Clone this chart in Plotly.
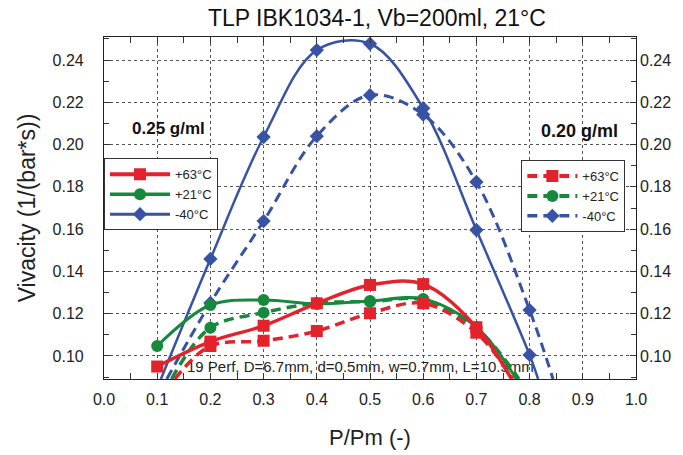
import plotly.graph_objects as go

# ---------------- data ----------------
title_text = "TLP IBK1034-1, Vb=200ml, 21°C"
x_title = "P/Pm (-)"
y_title = "Vivacity (1/(bar*s))"
note_text = "19 Perf, D=6.7mm, d=0.5mm, w=0.7mm, L=10.5mm"
legend_labels = ["+63°C", "+21°C", "-40°C"]

# 0.25 g/ml (solid)
x_red_a = [0.1, 0.2, 0.3, 0.4, 0.5, 0.6, 0.7]
y_red_a = [0.095, 0.1068, 0.1143, 0.1249, 0.1336, 0.134, 0.1136]
x_green_a = [0.1, 0.2, 0.3, 0.4, 0.5, 0.6, 0.7]
y_green_a = [0.1047, 0.1241, 0.1265, 0.1246, 0.126, 0.127, 0.1136]
x_blue_a = [0.2, 0.3, 0.4, 0.5, 0.6, 0.7, 0.8]
y_blue_a = [0.1459, 0.2036, 0.2447, 0.2477, 0.2172, 0.1596, 0.1005]

# 0.20 g/ml (dashed)
x_red_b = [0.2, 0.3, 0.4, 0.5, 0.6, 0.7]
y_red_b = [0.1047, 0.1072, 0.1118, 0.1202, 0.1249, 0.111]
x_green_b = [0.2, 0.3, 0.4, 0.5, 0.6, 0.7]
y_green_b = [0.1134, 0.1205, 0.125, 0.1257, 0.1266, 0.1132]
x_blue_b = [0.2, 0.3, 0.4, 0.5, 0.6, 0.7, 0.8]
y_blue_b = [0.1251, 0.1638, 0.204, 0.2234, 0.2142, 0.1823, 0.1217]

# where each fitted curve leaves the plot at the bottom
y_floor = 0.0891
red_a_ends = (None, 0.766)
green_a_ends = (None, 0.775)
blue_a_ends = (0.107, 0.816)
red_b_ends = (0.133, 0.768)
green_b_ends = (0.127, 0.78)
blue_b_ends = (0.118, 0.844)

RED = "#E4222B"
GREEN = "#16893C"
BLUE = "#3852A4"
FONT = "Arial, Liberation Sans, sans-serif"

fig = go.Figure()

# note text first, so the curves are drawn over it
fig.add_trace(go.Scatter(
    x=[0.156], y=[0.0943], mode="text", text=[note_text],
    textposition="middle right", textfont=dict(size=15, color="#222", family=FONT),
    showlegend=False, hoverinfo="skip"))


def curve(xs, ys, ends):
    lx, rx = ends
    cx = list(xs)
    cy = list(ys)
    if lx is not None:
        cx = [lx] + cx
        cy = [y_floor] + cy
    if rx is not None:
        cx = cx + [rx]
        cy = cy + [y_floor]
    return cx, cy


series = [
    # (x, y, ends, color, symbol, size, width, dash, label, legend)
    (x_blue_b, y_blue_b, blue_b_ends, BLUE, "diamond", 11, 3, "10px,6px", legend_labels[2], "legend2"),
    (x_blue_a, y_blue_a, blue_a_ends, BLUE, "diamond", 11, 2.5, "solid", legend_labels[2], "legend"),
    (x_green_b, y_green_b, green_b_ends, GREEN, "circle", 12, 3.5, "10px,6px", legend_labels[1], "legend2"),
    (x_green_a, y_green_a, green_a_ends, GREEN, "circle", 12, 3, "solid", legend_labels[1], "legend"),
    (x_red_b, y_red_b, red_b_ends, RED, "square", 12, 3.5, "10px,6px", legend_labels[0], "legend2"),
    (x_red_a, y_red_a, red_a_ends, RED, "square", 12, 3.5, "solid", legend_labels[0], "legend"),
]

rank = {legend_labels[0]: 1, legend_labels[1]: 2, legend_labels[2]: 3}

for xs, ys, ends, col, sym, size, wd, dash, label, leg in series:
    cx, cy = curve(xs, ys, ends)
    fig.add_trace(go.Scatter(
        x=cx, y=cy, mode="lines", line=dict(color=col, width=wd, dash=dash,
                                            shape="spline", smoothing=1.0),
        showlegend=False, hoverinfo="skip"))
    fig.add_trace(go.Scatter(
        x=xs, y=ys, mode="markers", marker=dict(color=col, symbol=sym, size=size),
        showlegend=False))
    # legend entry
    fig.add_trace(go.Scatter(
        x=[None], y=[None], mode="lines+markers", name=label, legend=leg,
        legendrank=rank[label],
        line=dict(color=col, width=wd + 0.5, dash=dash),
        marker=dict(color=col, symbol=sym, size=size)))

# invisible trace to carry the right-hand axis
fig.add_trace(go.Scatter(x=[None], y=[None], yaxis="y2", showlegend=False))

grid = dict(showgrid=True, gridcolor="#555", gridwidth=1, griddash="3px,3px")

fig.update_layout(
    width=683, height=455,
    margin=dict(l=104, r=47, t=37, b=76, autoexpand=False),
    paper_bgcolor="white", plot_bgcolor="white",
    font=dict(family=FONT, color="#222"),
    title=dict(text=title_text, x=0.513, xref="paper", xanchor="center",
               y=1 - 18 / 455, yref="container", yanchor="middle",
               font=dict(size=23, color="#111", family=FONT)),
    xaxis=dict(range=[0, 1], dtick=0.1, tick0=0, tickformat=".1f",
               ticks="inside", ticklen=6, tickcolor="#333",
               minor=dict(dtick=0.05, ticks="inside", ticklen=5, tickcolor="#333"),
               showline=True, linecolor="#222", linewidth=1.2, mirror="allticks",
               tickfont=dict(size=16, color="#222"), ticklabelstandoff=6,
               zeroline=False, automargin=False,
               title=dict(text=x_title, font=dict(size=22, color="#222"), standoff=22),
               **grid),
    yaxis=dict(range=[0.0891, 0.2509], dtick=0.02, tick0=0, tickformat=".2f",
               ticks="inside", ticklen=6, tickcolor="#333",
               minor=dict(dtick=0.01, ticks="inside", ticklen=5, tickcolor="#333"),
               showline=True, linecolor="#222", linewidth=1.2, mirror="allticks",
               tickfont=dict(size=16, color="#222"), ticklabelstandoff=16,
               zeroline=False, automargin=False,
               title=dict(text=y_title, font=dict(size=23, color="#222"), standoff=10),
               **grid),
    yaxis2=dict(range=[0.0891, 0.2509], dtick=0.02, tick0=0, tickformat=".2f",
                overlaying="y", side="right", showgrid=False, zeroline=False,
                ticks="", showline=False, tickfont=dict(size=16, color="#222"),
                ticklabelstandoff=3, automargin=False),
    legend=dict(x=0.0, xanchor="left", y=0.645, yanchor="top",
                bordercolor="#333", borderwidth=1, bgcolor="white",
                font=dict(size=13, color="#222"), itemwidth=60,
                entrywidth=68, entrywidthmode="pixels", tracegroupgap=0,
                traceorder="normal"),
    legend2=dict(x=0.98, xanchor="right", y=0.64, yanchor="top",
                 bordercolor="#333", borderwidth=1, bgcolor="white",
                 font=dict(size=13, color="#222"), itemwidth=50, tracegroupgap=0,
                 traceorder="normal"),
    annotations=[
        dict(text="<b>0.25 g/ml</b>", x=0.049, y=0.2078, xref="x", yref="y",
             xanchor="left", yanchor="middle", showarrow=False,
             font=dict(size=17, color="#111")),
        dict(text="<b>0.20 g/ml</b>", x=0.97, y=0.2064, xref="x", yref="y",
             xanchor="right", yanchor="middle", showarrow=False,
             font=dict(size=18, color="#111")),
    ],
)

fig.write_html(
    "out.html",
    config={"displayModeBar": False},
    post_script="document.body.style.margin='0px';document.body.style.overflow='hidden';",
)
